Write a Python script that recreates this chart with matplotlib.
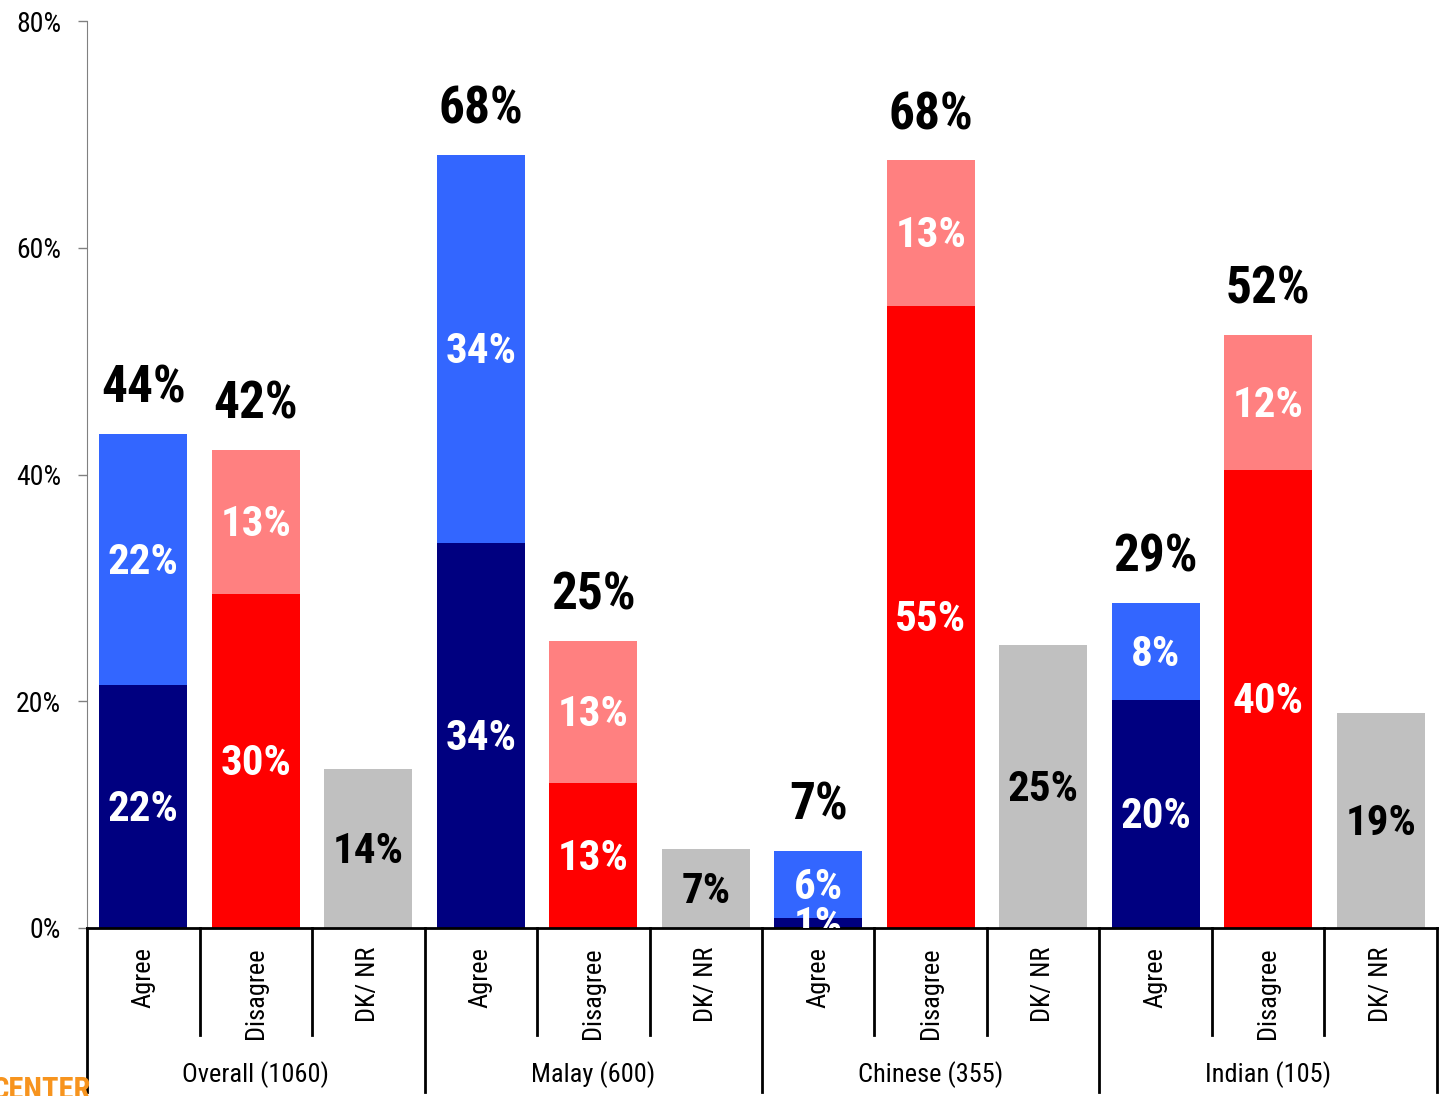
import matplotlib.pyplot as plt

# survey groups and answer categories
groups = ["Overall (1060)", "Malay (600)", "Chinese (355)", "Indian (105)"]
answers = ["Agree", "Disagree", "DK/ NR"]

# stacked values per group (bottom, top segment)
agree_strong = [21.4, 34.0, 0.9, 20.1]
agree_some = [22.2, 34.2, 5.9, 8.6]
disagree_strong = [29.5, 12.8, 54.9, 40.4]
disagree_some = [12.7, 12.5, 12.8, 11.9]
dknr = [14.0, 7.0, 25.0, 19.0]

# label texts as printed on the chart
agree_strong_lbl = ["22%", "34%", "1%", "20%"]
agree_some_lbl = ["22%", "34%", "6%", "8%"]
agree_total_lbl = ["44%", "68%", "7%", "29%"]
disagree_strong_lbl = ["30%", "13%", "55%", "40%"]
disagree_some_lbl = ["13%", "13%", "13%", "12%"]
disagree_total_lbl = ["42%", "25%", "68%", "52%"]
dknr_lbl = ["14%", "7%", "25%", "19%"]

yticks = [0, 20, 40, 60, 80]

navy = "#000080"
blue = "#3366FF"
red = "#FF0000"
pink = "#FF8080"
grey = "#C0C0C0"

narrow = ["Roboto Condensed", "PT Sans Narrow", "Liberation Sans", "DejaVu Sans"]
bold = dict(family=narrow, fontweight="bold")

fig = plt.figure(figsize=(14.41, 10.96), dpi=100)
ax = fig.add_axes([0.0604, 0.1533, 0.9368, 0.8275])

w = 0.78
inner = 31
total = 37
dy = -0.25  # inner labels sit a touch low in the original
for g in range(len(groups)):
    xa = g * 3
    xd = g * 3 + 1
    xk = g * 3 + 2
    ax.bar(xa, agree_strong[g], w, color=navy)
    ax.bar(xa, agree_some[g], w, bottom=agree_strong[g], color=blue)
    ax.bar(xd, disagree_strong[g], w, color=red)
    ax.bar(xd, disagree_some[g], w, bottom=disagree_strong[g], color=pink)
    ax.bar(xk, dknr[g], w, color=grey)

    ax.text(xa, agree_strong[g] / 2 + dy, agree_strong_lbl[g], ha="center", va="center",
            color="white", fontsize=inner, clip_on=True, **bold)
    ax.text(xa, agree_strong[g] + agree_some[g] / 2 + dy, agree_some_lbl[g], ha="center",
            va="center", color="white", fontsize=inner, **bold)
    ax.text(xa, agree_strong[g] + agree_some[g] + 4.0, agree_total_lbl[g], ha="center",
            va="center", color="black", fontsize=total, **bold)
    ax.text(xd, disagree_strong[g] / 2 + dy, disagree_strong_lbl[g], ha="center", va="center",
            color="white", fontsize=inner, **bold)
    ax.text(xd, disagree_strong[g] + disagree_some[g] / 2 + dy, disagree_some_lbl[g], ha="center",
            va="center", color="white", fontsize=inner, **bold)
    ax.text(xd, disagree_strong[g] + disagree_some[g] + 4.0, disagree_total_lbl[g], ha="center",
            va="center", color="black", fontsize=total, **bold)
    ax.text(xk, dknr[g] / 2 + dy, dknr_lbl[g], ha="center", va="center",
            color="black", fontsize=inner, **bold)

ax.set_xlim(-0.5, 11.5)
ax.set_ylim(0, 80)
ax.set_yticks(yticks)
ax.set_yticklabels([str(t) + "%" for t in yticks], fontsize=20, family=narrow)
ax.tick_params(axis="y", length=6.5, color="#808080", width=1, pad=12)
ax.set_xticks([])

for s in ["top", "right"]:
    ax.spines[s].set_visible(False)
ax.spines["left"].set_color("#808080")
ax.spines["left"].set_linestyle((0, (2, 1)))
ax.spines["left"].set_linewidth(0.8)
ax.spines["bottom"].set_linewidth(2)

# category axis: separators and labels
tr = ax.get_xaxis_transform()
for k in range(13):
    xb = k - 0.5
    y_end = -0.181 if k % 3 == 0 else -0.118
    ax.plot([xb, xb], [0, y_end], color="black", lw=2, transform=tr, clip_on=False)
for i in range(12):
    ax.text(i, -0.021, answers[i % 3], rotation=90, ha="center", va="top",
            fontsize=19, family=narrow, transform=tr)
for g in range(len(groups)):
    ax.text(g * 3 + 1, -0.162, groups[g], ha="center", va="center",
            fontsize=19, family=narrow, transform=tr)

fig.text(-0.006, -0.008, "CENTER", color="#F7941E", fontsize=22, ha="left", va="bottom", **bold)

fig.savefig("out.png", dpi=100)
